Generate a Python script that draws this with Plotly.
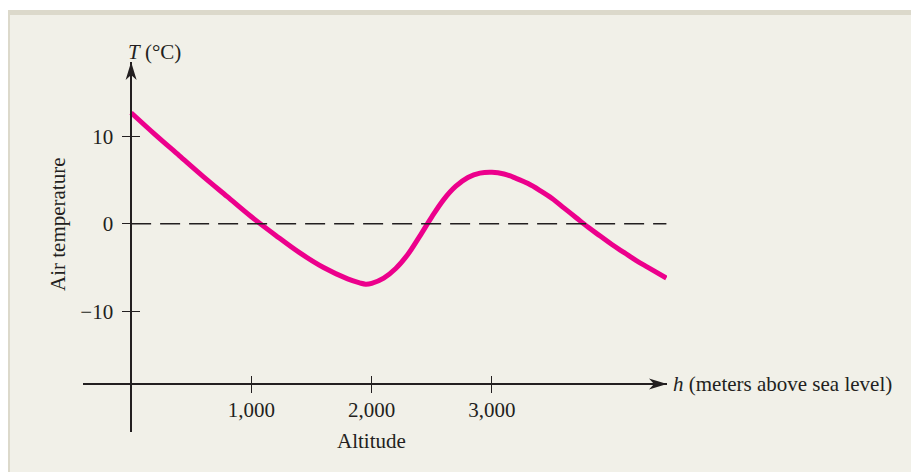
import plotly.graph_objects as go

# values
altitude = [0, 200, 400, 600, 800, 1000, 1200, 1400, 1600, 1800, 1900, 1950, 2000, 2100,
            2200, 2300, 2400, 2500, 2600, 2700, 2800, 2900, 3000, 3100, 3200, 3300, 3400,
            3500, 3600, 3700, 3800, 3900, 4000, 4100, 4200, 4300, 4450]
temperature = [12.7, 10.2, 7.8, 5.4, 3.1, 0.8, -1.3, -3.3, -5.0, -6.3, -6.75, -6.9, -6.8, -6.2,
               -5.1, -3.5, -1.4, 0.8, 2.8, 4.3, 5.3, 5.8, 5.9, 5.7, 5.2, 4.6, 3.8,
               2.9, 1.8, 0.7, -0.4, -1.4, -2.4, -3.3, -4.2, -5.0, -6.2]
x_tickvals = [1000, 2000, 3000]
x_ticktext = ["1,000", "2,000", "3,000"]
y_tickvals = [-10, 0, 10]
y_ticktext = ["\u221210", "0", "10"]

# the page body adds an 8px offset, so the figure is 8px smaller than the window
OFF = 8
SW, SH = 919, 472                     # window size
ML, MR, MT, MB = 83, 252, 62, 40      # plot area in window pixels
x_range = [-400, 4455]
y_range = [-23.8, 18.5]
x_axis_at = -18.3   # where the h axis crosses the T axis
FONT = "Liberation Serif, Times New Roman, serif"
FS = 21
INK = "#231f20"

plot_w = SW - ML - MR
plot_h = SH - MT - MB


def px_x(p):
    return (p - ML) / plot_w


def px_y(p):
    return (SH - MB - p) / plot_h


xpos = (x_axis_at - y_range[0]) / (y_range[1] - y_range[0])
ypos = (0 - x_range[0]) / (x_range[1] - x_range[0])

fig = go.Figure()
fig.add_trace(go.Scatter(x=altitude, y=temperature, mode="lines",
                         line=dict(color="#ec008c", width=5, shape="spline", smoothing=1),
                         hoverinfo="skip", showlegend=False))
# empty trace so the overlay axes (other half of the crossing ticks) get drawn
fig.add_trace(go.Scatter(x=[None], y=[None], xaxis="x2", yaxis="y2", showlegend=False,
                         hoverinfo="skip"))

axis_common = dict(showgrid=False, zeroline=False, linecolor=INK, linewidth=1.5,
                   tickcolor=INK, tickwidth=1.3, ticklen=8, anchor="free",
                   tickfont=dict(family=FONT, size=FS, color=INK))
fig.update_layout(
    width=SW - OFF, height=SH - OFF,
    margin=dict(l=ML - OFF, r=MR, t=MT - OFF, b=MB),
    paper_bgcolor="white", plot_bgcolor="rgba(0,0,0,0)",
    xaxis=dict(range=x_range, tickvals=x_tickvals, ticktext=x_ticktext, ticks="outside",
               position=xpos, showline=True, ticklabelstandoff=-1, **axis_common),
    yaxis=dict(range=y_range, tickvals=y_tickvals, ticktext=y_ticktext, ticks="outside",
               position=ypos, showline=True, ticklabelstandoff=5, **axis_common),
    xaxis2=dict(overlaying="x", matches="x", tickvals=x_tickvals, ticks="inside",
                showticklabels=False, showline=False, position=xpos, **axis_common),
    yaxis2=dict(overlaying="y", matches="y", tickvals=y_tickvals, ticks="inside",
                showticklabels=False, showline=False, position=ypos, **axis_common),
    showlegend=False,
)

# frame of the figure panel
fig.add_shape(type="rect", xref="paper", yref="paper", layer="below",
              x0=px_x(OFF), x1=px_x(SW + 5), y0=px_y(SH + 5), y1=px_y(10),
              fillcolor="#dcd9cb", line_width=0)
fig.add_shape(type="rect", xref="paper", yref="paper", layer="below",
              x0=px_x(OFF + 2), x1=px_x(SW + 5), y0=px_y(SH + 5), y1=px_y(15),
              fillcolor="#f1f0e8", line_width=0)

# dashed T = 0 line
fig.add_shape(type="line", xref="x", yref="y", x0=0, x1=altitude[-1], y0=0, y1=0,
              line=dict(color=INK, width=1.5, dash="20px,9px"))

# arrow heads
fig.add_shape(type="path", xref="x", yref="paper", xsizemode="pixel", ysizemode="pixel",
              xanchor=0, yanchor=1, path="M0,0 L-5.5,-18 L0,-13 L5.5,-18 Z",
              fillcolor=INK, line_width=0)
fig.add_shape(type="path", xref="paper", yref="paper", xsizemode="pixel", ysizemode="pixel",
              xanchor=1, yanchor=xpos, path="M0,0 L-18,5.5 L-13,0 L-18,-5.5 Z",
              fillcolor=INK, line_width=0)

lab = dict(family=FONT, size=FS, color=INK)
fig.add_annotation(text="<i>T</i> (°C)", xref="x", yref="paper", x=0, y=1,
                   xanchor="left", yanchor="middle", xshift=-5, yshift=10,
                   showarrow=False, font=lab)
fig.add_annotation(text="Air temperature", xref="paper", yref="paper", x=px_x(58), y=px_y(224),
                   textangle=-90, xanchor="center", yanchor="middle", showarrow=False, font=lab)
fig.add_annotation(text="Altitude", xref="x", yref="paper", x=2000, y=px_y(441),
                   xanchor="center", yanchor="middle", showarrow=False, font=lab)
fig.add_annotation(text="<i>h</i> (meters above sea level)", xref="paper", yref="paper",
                   x=1, y=xpos, xanchor="left", yanchor="middle", xshift=4,
                   showarrow=False, font=lab)

fig.write_html("out.html")
